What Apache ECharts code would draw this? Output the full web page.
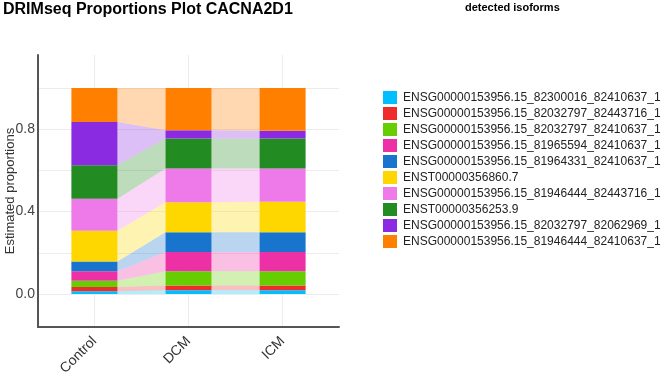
<!DOCTYPE html>
<html>
<head>
<meta charset="utf-8">
<script src="https://cdn.jsdelivr.net/npm/echarts@6/dist/echarts.min.js"></script>
<style>
html,body{margin:0;padding:0;background:#fff;}
#chart{width:665px;height:378px;}
</style>
</head>
<body>
<div id="chart"></div>
<script>
// ---- data ----
const categories = ['Control', 'DCM', 'ICM'];
const isoforms = [
  'ENSG00000153956.15_82300016_82410637_1',
  'ENSG00000153956.15_82032797_82443716_1',
  'ENSG00000153956.15_82032797_82410637_1',
  'ENSG00000153956.15_81965594_82410637_1',
  'ENSG00000153956.15_81964331_82410637_1',
  'ENST00000356860.7',
  'ENSG00000153956.15_81946444_82443716_1',
  'ENST00000356253.9',
  'ENSG00000153956.15_82032797_82062969_1',
  'ENSG00000153956.15_81946444_82410637_1'
];
const colors = ['#00BFFF', '#EE2C2C', '#66CD00', '#EE30A7', '#1874CD',
                '#FFD700', '#EE7AE9', '#228B22', '#8A2BE2', '#FF7F00'];
// proportions per isoform, in category order [Control, DCM, ICM]
const propIso1 = [0.014, 0.018, 0.018];
const propIso2 = [0.020, 0.024, 0.024];
const propIso3 = [0.031, 0.069, 0.069];
const propIso4 = [0.046, 0.093, 0.093];
const propIso5 = [0.047, 0.096, 0.096];
const propIso6 = [0.149, 0.146, 0.148];
const propIso7 = [0.155, 0.163, 0.161];
const propIso8 = [0.163, 0.146, 0.146];
const propIso9 = [0.210, 0.040, 0.037];
const propIso10 = [0.165, 0.205, 0.208];
const proportions = [propIso1, propIso2, propIso3, propIso4, propIso5,
                     propIso6, propIso7, propIso8, propIso9, propIso10];
const yGridValues = [0, 0.2, 0.4, 0.6, 0.8, 1.0];
const yLabelValues = [0, 0.4, 0.8];
const xTickValues = [0, 1, 2];

// ---- build stacked bounds ----
const HW = 0.245;
const cum = categories.map(() => 0);
const series = isoforms.map((name, k) => {
  const data = categories.map((c, i) => {
    const b = cum[i];
    const t = b + proportions[k][i];
    return [i, b, t];
  });
  categories.forEach((c, i) => { cum[i] += proportions[k][i]; });
  data.forEach((d, i) => {
    if (i < categories.length - 1) {
      d.push(data[i + 1][1], data[i + 1][2]);
    } else {
      d.push(NaN, NaN);
    }
  });
  const color = colors[k];
  return {
    type: 'custom',
    name: name,
    itemStyle: { color: color },
    encode: { x: 0, y: [1, 2] },
    renderItem: function (params, api) {
      const x = api.value(0), b = api.value(1), t = api.value(2);
      const nb = api.value(3), nt = api.value(4);
      const p1 = api.coord([x - HW, t]);
      const p2 = api.coord([x + HW, b]);
      const children = [];
      if (x < categories.length - 1) {
        children.push({
          type: 'polygon',
          shape: { points: [
            api.coord([x + HW, t]), api.coord([x + 1 - HW, nt]),
            api.coord([x + 1 - HW, nb]), api.coord([x + HW, b])
          ] },
          style: { fill: color, opacity: 0.3 }
        });
      }
      children.push({
        type: 'rect',
        shape: { x: p1[0], y: p1[1], width: p2[0] - p1[0], height: p2[1] - p1[1] },
        style: { fill: color }
      });
      return { type: 'group', children: children };
    },
    data: data
  };
});

const chart = echarts.init(document.getElementById('chart'), null, { renderer: 'canvas' });
chart.setOption({
  animation: false,
  backgroundColor: '#fff',
  title: [
    { text: 'DRIMseq Proportions Plot CACNA2D1', left: 3, top: 2, padding: 0,
      textStyle: { fontFamily: 'Liberation Sans', fontSize: 16, fontWeight: 'bold', color: '#000' } },
    { text: 'detected isoforms', left: 465, top: 2, padding: 0,
      textStyle: { fontFamily: 'Liberation Sans', fontSize: 11, fontWeight: 'bold', color: '#000' } }
  ],
  legend: {
    orient: 'vertical', left: 383, top: 91, padding: 0,
    itemWidth: 14, itemHeight: 13, itemGap: 3, icon: 'rect',
    data: isoforms,
    textStyle: { fontFamily: 'Liberation Sans', fontSize: 12, color: '#222', lineHeight: 13, padding: [0, 0, 0, 1] }
  },
  grid: { left: 38, right: 326, top: 55, bottom: 48 },
  xAxis: {
    type: 'value', min: -0.6, max: 2.6,
    axisLine: { show: true, onZero: false, lineStyle: { color: '#555', width: 2 } },
    axisTick: { show: false, customValues: xTickValues },
    splitLine: { show: true, lineStyle: { color: '#ececec', width: 1 } },
    axisLabel: {
      customValues: xTickValues, rotate: 45, margin: 12,
      fontFamily: 'Liberation Sans', fontSize: 14, color: '#333',
      formatter: v => categories[Math.round(v)]
    }
  },
  yAxis: {
    type: 'value', min: -0.16, max: 1.16,
    name: 'Estimated proportions', nameLocation: 'middle', nameGap: 21,
    nameMoveOverlap: false,
    nameTextStyle: { fontFamily: 'Liberation Sans', fontSize: 13, color: '#333' },
    axisLine: { show: true, onZero: false, lineStyle: { color: '#555', width: 2 } },
    axisTick: { show: false, customValues: yGridValues },
    splitLine: { show: true, lineStyle: { color: '#ececec', width: 1 } },
    axisLabel: {
      customValues: yLabelValues, margin: 3,
      fontFamily: 'Liberation Sans', fontSize: 14, color: '#444',
      formatter: v => v.toFixed(1)
    }
  },
  series: series
});
</script>
</body>
</html>
